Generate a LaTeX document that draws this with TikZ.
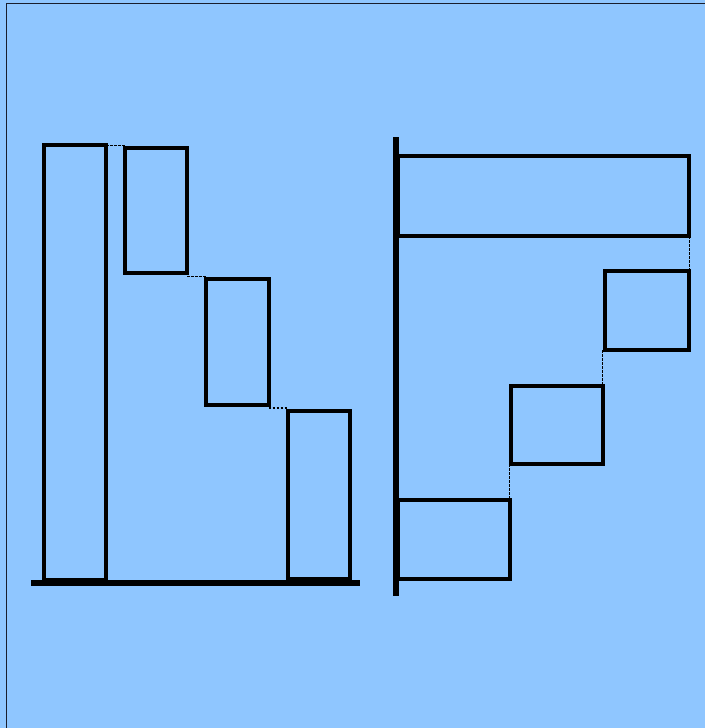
\documentclass[tikz,border=0pt]{standalone}
\usetikzlibrary{calc}
\definecolor{bgblue}{RGB}{143,198,255}
\definecolor{frameline}{RGB}{25,30,45}
\begin{document}
\begin{tikzpicture}[x=1pt,y=-1pt,
  bar/.style={draw=black, line width=4pt, inner sep=0pt, outer sep=0pt},
  guide/.style={draw=black, line width=1.1pt, dash pattern=on 2.5pt off 1.5pt},
  axisline/.style={draw=black, line width=6pt}]
\useasboundingbox (0,0) rectangle (705,728);
\fill[bgblue] (0,0) rectangle (705,728);
\draw[frameline, line width=1.3pt] (6.5,728) -- (6.5,3.5) -- (705,3.5);
% left chart
\node[bar, minimum width=62.3pt, minimum height=434.7pt] (b1) at (74.85,362.65) {};
\node[bar, minimum width=61.7pt, minimum height=125.6pt] (b2) at (156.15,210.5) {};
\node[bar, minimum width=62.4pt, minimum height=125.6pt] (b3) at (237.5,342.1) {};
\node[bar, minimum width=62.3pt, minimum height=168pt] (b4) at (319.15,495) {};
\coordinate (bl) at (31,583);
\coordinate (br) at (360,583);
\draw[axisline] (bl) -- (br);
\draw[guide] (b1.north east) -- (b2.west |- b1.north east);
\coordinate (m2) at ($(b2.south east)!0.5!(b3.north west)$);
\draw[guide] (b2.east |- m2) -- (b3.west |- m2);
\coordinate (m3) at ($(b3.south east)!0.5!(b4.north west)$);
\draw[guide] (b3.east |- m3) -- (b4.west |- m3);
% right chart
\node[bar, minimum width=291.8pt, minimum height=79.7pt] (ra) at (543.4,196.15) {};
\node[bar, minimum width=84.6pt, minimum height=79pt] (rb) at (647,310.8) {};
\node[bar, minimum width=91.7pt, minimum height=78.3pt] (rc) at (556.85,424.85) {};
\node[bar, minimum width=112.2pt, minimum height=79pt] (rd) at (453.6,539.2) {};
\coordinate (at) at (396.3,137.3);
\coordinate (ab) at (396.3,596);
\draw[axisline] (at) -- (ab);
\draw[guide] (rb.north east |- ra.south) -- (rb.north east);
\draw[guide] (rc.north east |- rb.south) -- (rc.north east);
\draw[guide] (rd.north east |- rc.south) -- (rd.north east);
\end{tikzpicture}
\end{document}
